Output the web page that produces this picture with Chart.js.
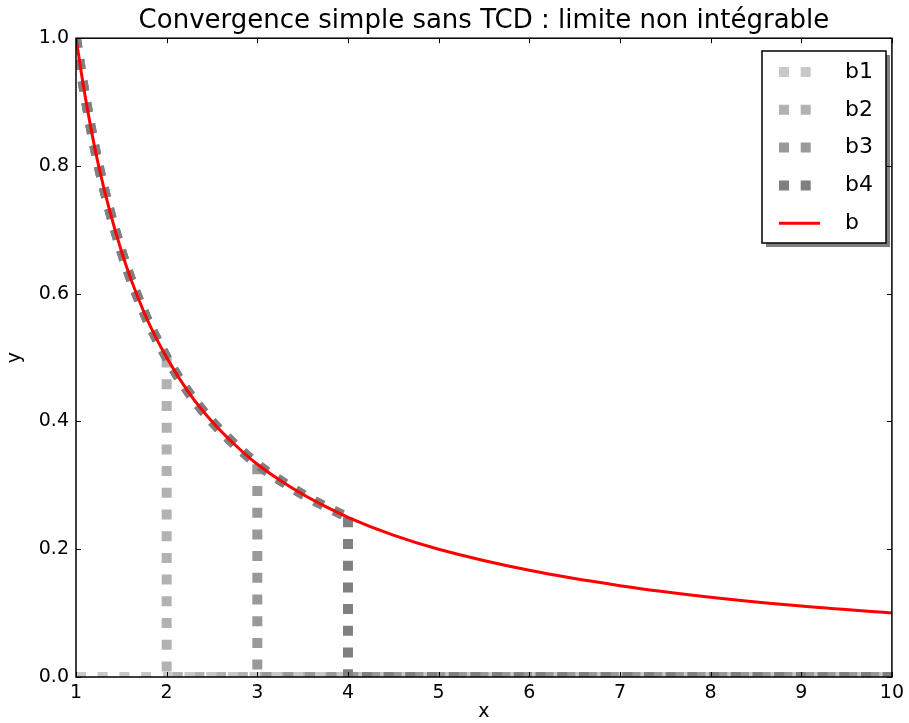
<!DOCTYPE html>
<html>
<head>
<meta charset="utf-8">
<script src="https://cdn.jsdelivr.net/npm/chart.js@4.4.0/dist/chart.umd.min.js"></script>
<style>
  html, body { margin: 0; padding: 0; background: #fff; }
  #wrap { width: 909px; height: 723px; }
</style>
</head>
<body>
<div id="wrap"><canvas id="chart" width="909" height="723"></canvas></div>
<script>
// Values
const curveX = [1, 1.1, 1.25, 1.5, 1.75, 2, 2.25, 2.5, 2.75, 3, 3.25, 3.5, 3.75, 4, 4.5, 5, 6, 7, 8, 9, 10];
const curveY = [1.0, 0.91, 0.80, 0.667, 0.571, 0.5, 0.444, 0.4, 0.364, 0.333, 0.308, 0.286, 0.267, 0.25, 0.222, 0.2, 0.167, 0.143, 0.125, 0.111, 0.1];
const cutoffs = [1, 2, 3, 4];          // x where b1..b4 fall to zero
const seriesNames = ['b1', 'b2', 'b3', 'b4', 'b'];
const grayColors = ['#c8c8c8', '#b2b2b2', '#999999', '#808080'];
const curveColor = '#ff0000';
const xTicks = [1, 2, 3, 4, 5, 6, 7, 8, 9, 10];
const yTicks = [0.0, 0.2, 0.4, 0.6, 0.8, 1.0];
const titleText = 'Convergence simple sans TCD : limite non intégrable';

const FONT = '"DejaVu Sans", sans-serif';
const dashW = 10, dashPat = [10, 11.7];

// Build datasets
const datasets = [];
datasets.push({
    label: 'b',
    data: curveX.map((x, i) => ({ x: x, y: curveY[i] })),
    borderColor: curveColor,
    borderWidth: 3,
    cubicInterpolationMode: 'monotone',
    pointRadius: 0,
    order: 0,
    clip: 0
});
cutoffs.forEach((n, k) => {
    const pts = [];
    curveX.forEach((x, i) => { if (x <= n) pts.push({ x: x, y: curveY[i] }); });
    const last = pts[pts.length - 1];
    const style = {
        borderColor: grayColors[k],
        borderWidth: dashW,
        borderDash: dashPat,
        borderCapStyle: 'butt',
        pointRadius: 0,
        order: 10 - k,
        clip: 0
    };
    if (pts.length > 1) {
        datasets.push(Object.assign({ label: seriesNames[k], data: pts, cubicInterpolationMode: 'monotone' }, style));
        // drop to zero, then zero to the end
        datasets.push(Object.assign({
            label: seriesNames[k] + '_drop',
            data: [last, { x: n, y: 0 }, { x: xTicks[xTicks.length - 1], y: 0 }],
            tension: 0
        }, style));
    } else {
        datasets.push(Object.assign({
            label: seriesNames[k] + '_zero',
            data: [{ x: n, y: 0 }, { x: xTicks[xTicks.length - 1], y: 0 }],
            tension: 0
        }, style));
    }
});

// Inward ticks, frame and boxed legend with shadow
const frameAndLegend = {
    id: 'frameAndLegend',
    afterDraw(chart) {
        const { ctx, chartArea: a, scales: { x, y } } = chart;
        ctx.save();
        ctx.strokeStyle = '#000';
        ctx.lineWidth = 1;
        ctx.beginPath();
        xTicks.forEach(v => {
            const px = Math.round(x.getPixelForValue(v)) + 0.5;
            ctx.moveTo(px, a.bottom); ctx.lineTo(px, a.bottom - 5);
            ctx.moveTo(px, a.top); ctx.lineTo(px, a.top + 5);
        });
        yTicks.forEach(v => {
            const py = Math.round(y.getPixelForValue(v)) + 0.5;
            ctx.moveTo(a.left, py); ctx.lineTo(a.left + 5, py);
            ctx.moveTo(a.right, py); ctx.lineTo(a.right - 5, py);
        });
        ctx.stroke();
        ctx.lineWidth = 1.5;
        ctx.strokeRect(a.left, a.top, a.right - a.left, a.bottom - a.top);

        // legend
        const lx = 762, ly = 51, lw = 124, lh = 192;
        ctx.fillStyle = 'rgba(0,0,0,0.5)';
        ctx.fillRect(lx + 4, ly + 4, lw, lh);
        ctx.fillStyle = '#fff';
        ctx.fillRect(lx, ly, lw, lh);
        ctx.lineWidth = 1.5;
        ctx.strokeStyle = '#000';
        ctx.strokeRect(lx, ly, lw, lh);
        ctx.font = '22px ' + FONT;
        ctx.textBaseline = 'middle';
        seriesNames.forEach((name, i) => {
            const ry = 72 + i * 37.8;
            ctx.beginPath();
            if (i < grayColors.length) {
                ctx.strokeStyle = grayColors[i];
                ctx.lineWidth = dashW;
                ctx.setLineDash(dashPat);
            } else {
                ctx.strokeStyle = curveColor;
                ctx.lineWidth = 3;
                ctx.setLineDash([]);
            }
            ctx.moveTo(779, ry); ctx.lineTo(820, ry);
            ctx.stroke();
            ctx.setLineDash([]);
            ctx.fillStyle = '#000';
            ctx.fillText(name, 845, ry);
        });
        ctx.restore();
    }
};

new Chart(document.getElementById('chart'), {
    type: 'line',
    data: { datasets: datasets },
    plugins: [frameAndLegend],
    options: {
        responsive: false,
        animation: false,
        layout: { padding: { top: 0, right: 12, left: 0, bottom: 0 } },
        plugins: {
            legend: { display: false },
            tooltip: { enabled: false },
            title: {
                display: true,
                fullSize: false,
                text: titleText,
                color: '#000',
                font: { family: FONT, size: 26, weight: 'normal' },
                padding: { top: 6, bottom: 1 }
            }
        },
        scales: {
            x: {
                type: 'linear',
                min: 1, max: 10,
                afterFit: s => { s.height = 46; },
                afterBuildTicks: s => { s.ticks = xTicks.map(v => ({ value: v })); },
                grid: { display: false, drawTicks: false },
                border: { display: false },
                ticks: {
                    color: '#000', padding: 5,
                    font: { family: FONT, size: 19 },
                    callback: v => String(v)
                },
                title: {
                    display: true, text: 'x', color: '#000',
                    font: { family: FONT, size: 19 },
                    padding: { top: -3, bottom: 0 }
                }
            },
            y: {
                type: 'linear',
                min: 0, max: 1,
                afterFit: s => { s.width = 76; },
                afterBuildTicks: s => { s.ticks = yTicks.map(v => ({ value: v })); },
                grid: { display: false, drawTicks: false },
                border: { display: false },
                ticks: {
                    color: '#000', padding: 7,
                    font: { family: FONT, size: 19 },
                    callback: v => Number(v).toFixed(1)
                },
                title: {
                    display: true, text: 'y', color: '#000',
                    font: { family: FONT, size: 19 },
                    padding: { top: 4, bottom: 0 }
                }
            }
        }
    }
});
</script>
</body>
</html>
